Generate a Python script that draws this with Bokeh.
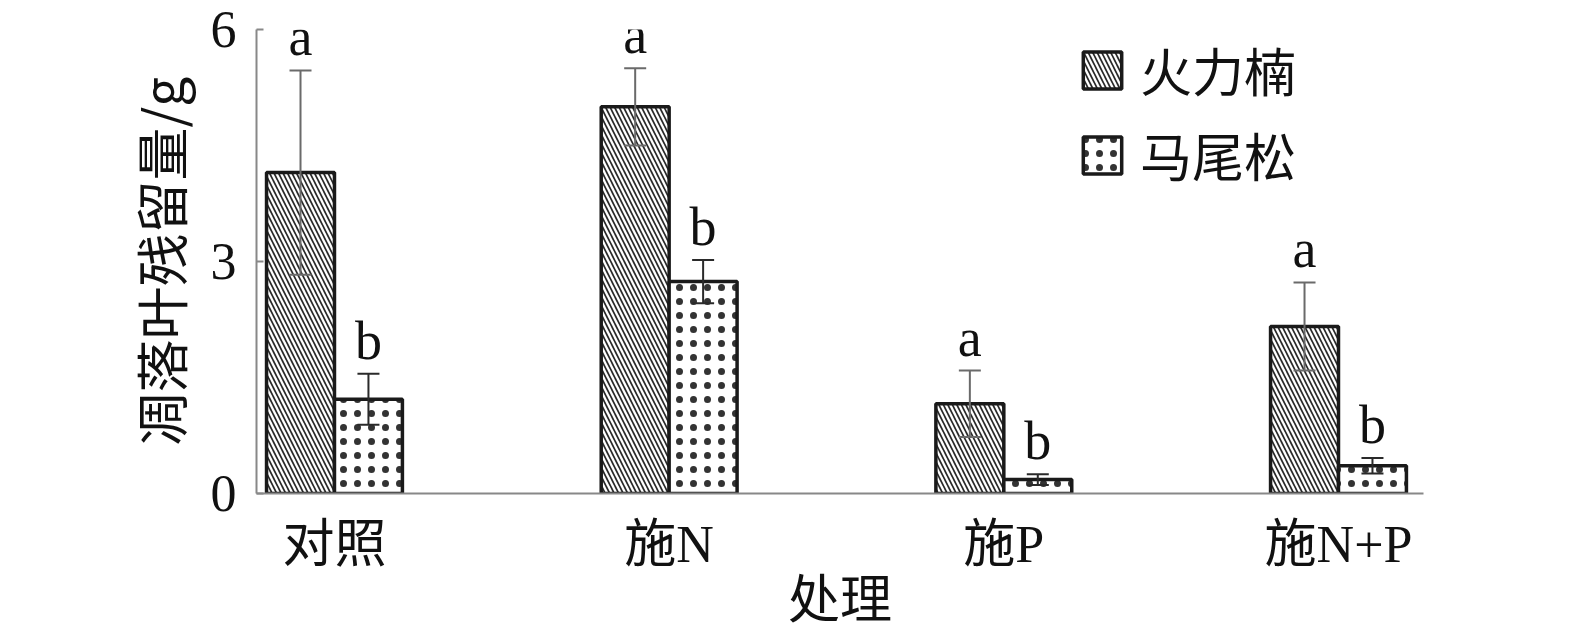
import numpy as np
from bokeh.plotting import figure
from bokeh.models import ColumnDataSource, Whisker, TeeHead, FixedTicker, Legend, LegendItem, Range1d, LabelSet
from bokeh.embed import file_html
from bokeh.resources import INLINE

categories = ["对照", "施N", "施P", "施N+P"]
series_names = ["火力楠", "马尾松"]
huolinan = [4.15, 5.00, 1.16, 2.16]
huolinan_err = [1.32, 0.50, 0.43, 0.57]
maweisong = [1.22, 2.74, 0.18, 0.36]
maweisong_err = [0.33, 0.28, 0.07, 0.10]
letters_a = ["a", "a", "a", "a"]
letters_b = ["b", "b", "b", "b"]
y_ticks = [0, 3, 6]

LAT = "Liberation Serif, Noto Sans CJK SC"

idx = np.arange(len(categories))
bw = 0.203
off = bw / 2

def make_src(vals, errs, x, labs):
    vals = np.array(vals)
    errs = np.array(errs)
    return ColumnDataSource(dict(x=x, top=vals, upper=vals + errs, lower=vals - errs, lab=labs))

s1 = make_src(huolinan, huolinan_err, idx - off, letters_a)
s2 = make_src(maweisong, maweisong_err, idx + off, letters_b)

p = figure(width=1574, height=631, x_range=Range1d(-0.233, 3.254), y_range=Range1d(0, 6),
           output_backend="svg", toolbar_location=None,
           min_border_left=256, min_border_top=29, min_border_bottom=138, min_border_right=151)
p.outline_line_color = None
p.grid.visible = False
p.background_fill_color = "white"

r1 = p.vbar(x="x", top="top", width=bw, source=s1, fill_color="white", line_color="#1a1a1a", line_width=3.5,
            hatch_pattern="left_diagonal_line", hatch_color="#2a2a2a", hatch_weight=1.7, hatch_scale=9)
r2 = p.vbar(x="x", top="top", width=bw, source=s2, fill_color="white", line_color="#1a1a1a", line_width=3.5,
            hatch_pattern="dot", hatch_color="#333333", hatch_weight=2.5, hatch_scale=14)

for src, col in ((s1, "#6a6a6a"), (s2, "#2a2a2a")):
    w = Whisker(base="x", upper="upper", lower="lower", source=src, line_color=col, line_width=2,
                upper_head=TeeHead(size=22, line_color=col, line_width=2),
                lower_head=TeeHead(size=22, line_color=col, line_width=2), level="annotation")
    p.add_layout(w)

for src in (s1, s2):
    ls = LabelSet(x="x", y="upper", text="lab", source=src, text_font="Liberation Serif",
                  text_font_size="54px", text_align="center", text_baseline="alphabetic", y_offset=15,
                  text_color="#111111")
    p.add_layout(ls)

# axes
p.yaxis.ticker = FixedTicker(ticks=y_ticks)
p.yaxis.major_tick_in = 7
p.yaxis.major_tick_out = 0
p.yaxis.minor_tick_line_color = None
p.yaxis.axis_line_color = "#888888"
p.yaxis.axis_line_width = 2
p.yaxis.major_tick_line_color = "#888888"
p.yaxis.major_tick_line_width = 2
p.yaxis.major_label_text_font = LAT
p.yaxis.major_label_text_font_size = "52px"
p.yaxis.major_label_text_color = "#111111"
p.yaxis.major_label_standoff = 20
p.yaxis.axis_label = "凋落叶残留量/g"
p.yaxis.axis_label_text_font = "Noto Sans CJK SC, Liberation Serif"
p.yaxis.axis_label_text_font_size = "53px"
p.yaxis.axis_label_text_font_style = "normal"
p.yaxis.axis_label_text_color = "#111111"
p.yaxis.axis_label_standoff = 10

p.xaxis.ticker = FixedTicker(ticks=list(idx))
p.xaxis.major_label_overrides = {int(i): c for i, c in zip(idx, categories)}
p.xaxis.major_tick_line_color = None
p.xaxis.minor_tick_line_color = None
p.xaxis.axis_line_color = "#888888"
p.xaxis.axis_line_width = 2
p.xaxis.major_label_text_font = LAT
p.xaxis.major_label_text_font_size = "52px"
p.xaxis.major_label_text_color = "#111111"
p.xaxis.major_label_standoff = 16
p.xaxis.axis_label = "处理"
p.xaxis.axis_label_text_font = LAT
p.xaxis.axis_label_text_font_size = "52px"
p.xaxis.axis_label_text_font_style = "normal"
p.xaxis.axis_label_text_color = "#111111"
p.xaxis.axis_label_standoff = -4

legend = Legend(items=[LegendItem(label=series_names[0], renderers=[r1]),
                       LegendItem(label=series_names[1], renderers=[r2])],
                location=(822, 301), orientation="vertical",
                glyph_width=48, glyph_height=46, label_height=38, label_width=170, spacing=10,
                label_standoff=14, padding=0, margin=0,
                border_line_color=None, background_fill_alpha=0,
                label_text_font="Noto Sans CJK SC", label_text_font_size="52px",
                label_text_color="#111111", label_text_baseline="middle")
p.add_layout(legend, "center")

open("out.html", "w").write(file_html(p, INLINE))
